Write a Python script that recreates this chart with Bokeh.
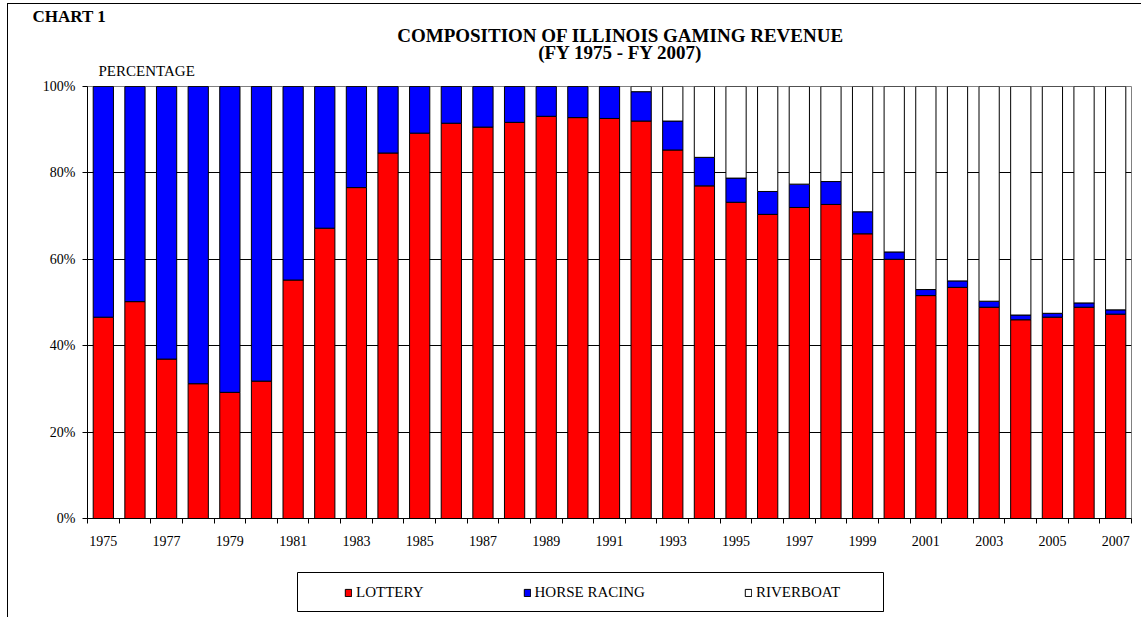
from bokeh.plotting import figure
from bokeh.layouts import column
from bokeh.models import (ColumnDataSource, Range1d, FixedTicker, Legend, LegendItem, Label)
from bokeh.embed import file_html
from bokeh.resources import INLINE

# ---------------- data (percent shares) ----------------
years = list(range(1975, 2008))
lottery = [46.6, 50.2, 36.9, 31.2, 29.2, 31.8, 55.2, 67.2, 76.6, 84.6,
           89.2, 91.5, 90.6, 91.7, 93.1, 92.8, 92.6, 92.0, 85.3, 77.0,
           73.2, 70.4, 72.0, 72.7, 65.9, 60.0, 51.6, 53.5, 48.9, 46.0,
           46.6, 48.9, 47.3]
horse_racing = [53.4, 49.8, 63.1, 68.8, 70.8, 68.2, 44.8, 32.8, 23.4, 15.4,
                10.8, 8.5, 9.4, 8.3, 6.9, 7.2, 7.4, 6.8, 6.7, 6.6,
                5.6, 5.3, 5.4, 5.3, 5.1, 1.7, 1.4, 1.5, 1.4, 1.1,
                0.9, 1.0, 1.0]
riverboat = [0, 0, 0, 0, 0, 0, 0, 0, 0, 0,
             0, 0, 0, 0, 0, 0, 0, 1.2, 8.0, 16.4,
             21.2, 24.3, 22.6, 22.0, 29.0, 38.3, 47.0, 45.0, 49.7, 52.9,
             52.5, 50.1, 51.7]
series_names = ["LOTTERY", "HORSE RACING", "RIVERBOAT"]
series_colors = ["#FF0000", "#0000FF", "#FFFFFF"]
y_tick_values = [0, 20, 40, 60, 80, 100]
y_tick_labels = ["0%", "20%", "40%", "60%", "80%", "100%"]
x_label_years = years[::2]
x_tick_labels = [str(y) for y in x_label_years]
chart_tag = "CHART 1"
title_lines = ["COMPOSITION OF ILLINOIS GAMING REVENUE", "(FY 1975 - FY 2007)"]
y_axis_title = "PERCENTAGE"

FONT = "Liberation Serif"
W = 1133

# ---------------- header (texts above the plot) ----------------
HH = 74
header = figure(width=W, height=HH, output_backend="svg", toolbar_location=None,
                x_range=Range1d(0, W), y_range=Range1d(HH, 0),
                x_axis_type=None, y_axis_type=None,
                min_border_left=0, min_border_right=0, min_border_top=0, min_border_bottom=0,
                frame_align=False)
header.outline_line_color = None
header.grid.visible = False
header.add_layout(Label(x=24, y=12, text=chart_tag, text_font=FONT, text_font_size="17px",
                        text_font_style="bold", text_baseline="middle", text_color="black"))
header.add_layout(Label(x=612, y=31, text=title_lines[0], text_font=FONT, text_font_size="19px",
                        text_font_style="bold", text_align="center", text_baseline="middle",
                        text_color="black"))
header.add_layout(Label(x=612, y=48, text=title_lines[1], text_font=FONT, text_font_size="19px",
                        text_font_style="bold", text_align="center", text_baseline="middle",
                        text_color="black"))
header.add_layout(Label(x=90, y=66, text=y_axis_title, text_font=FONT, text_font_size="15px",
                        text_baseline="middle", text_color="black"))

# ---------------- main bar chart ----------------
src = ColumnDataSource(dict(year=years, lottery=lottery, horse=horse_racing, river=riverboat))
MH = 487
p = figure(width=W, height=MH, output_backend="svg", toolbar_location=None,
           x_range=Range1d(years[0] - 0.5, years[-1] + 0.5), y_range=Range1d(0, 100),
           min_border_left=79, min_border_top=8, min_border_bottom=47, min_border_right=10,
           frame_align=False)
p.outline_line_color = "#808080"
p.outline_line_width = 1

renderers = p.vbar_stack(["lottery", "horse", "river"], x="year", width=0.64,
                         color=series_colors, line_color="black", line_width=1,
                         source=src)

p.xaxis.ticker = FixedTicker(ticks=x_label_years,
                             minor_ticks=[y - 0.5 for y in years] + [years[-1] + 0.5])
p.xaxis.major_label_overrides = {yv: lab for yv, lab in zip(x_label_years, x_tick_labels)}
p.xaxis.major_tick_in = 0
p.xaxis.major_tick_out = 0
p.xaxis.minor_tick_in = 0
p.xaxis.minor_tick_out = 5
p.xaxis.minor_tick_line_color = "black"
p.xaxis.major_label_standoff = 12
p.yaxis.ticker = FixedTicker(ticks=y_tick_values, minor_ticks=[])
p.yaxis.major_label_overrides = {v: lab for v, lab in zip(y_tick_values, y_tick_labels)}
p.yaxis.major_tick_in = 0
p.yaxis.major_tick_out = 5
p.yaxis.major_label_standoff = 7
for ax in (p.xaxis[0], p.yaxis[0]):
    ax.axis_line_color = "black"
    ax.major_tick_line_color = "black"
    ax.major_label_text_font = FONT
    ax.major_label_text_font_size = "14px"
    ax.major_label_text_color = "black"

p.xgrid.visible = False
p.ygrid.ticker = FixedTicker(ticks=y_tick_values[1:-1])
p.ygrid.grid_line_color = "black"
p.ygrid.grid_line_width = 1

# ---------------- legend box ----------------
LH = 52
BOX_L, BOX_R = 289, 875
lg = figure(width=W, height=LH, output_backend="svg", toolbar_location=None,
            x_range=Range1d(0, 1), y_range=Range1d(200, 300),
            x_axis_type=None, y_axis_type=None,
            min_border_left=BOX_L, min_border_right=W - BOX_R, min_border_top=7,
            min_border_bottom=6, frame_align=False)
lg.grid.visible = False
lg.outline_line_color = "black"
lg.outline_line_width = 1
legend_renderers = lg.vbar_stack(["lottery", "horse", "river"], x="year", width=0.64,
                                 color=series_colors, line_color="black", line_width=1,
                                 source=src)
legend = Legend(items=[LegendItem(label=n, renderers=[r]) for n, r in zip(series_names, legend_renderers)],
                orientation="horizontal", location=(47, 10),
                glyph_width=8, glyph_height=9, label_standoff=4, spacing=99,
                padding=0, border_line_alpha=0, background_fill_alpha=0,
                label_text_font=FONT, label_text_font_size="15px",
                label_text_color="black", label_height=18)
lg.add_layout(legend, "center")

layout = column(header, p, lg, spacing=0,
                styles={"border-left": "1px solid black", "border-top": "1px solid black",
                        "margin-left": "7px", "margin-top": "3px"})

open("out.html", "w").write(file_html(layout, INLINE))
